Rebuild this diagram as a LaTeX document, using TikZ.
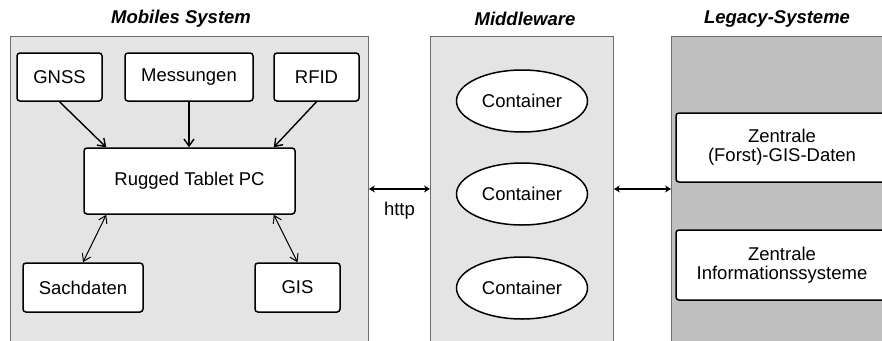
\documentclass[tikz,border=0pt]{standalone}
\usepackage{fontspec}
\setmainfont{Liberation Sans}
\usetikzlibrary{shapes.geometric,arrows.meta}
\definecolor{panellight}{HTML}{E4E4E4}
\definecolor{paneldark}{HTML}{C0C0C0}
\definecolor{panelline}{HTML}{6E6E6E}
\begin{document}
\begin{tikzpicture}[x=1pt,y=-1pt,
  every node/.style={font=\fontsize{18.5}{19}\selectfont},
  panel/.style={draw=panelline, line width=0.9pt, anchor=north west, inner sep=0pt, minimum height=305pt},
  ptitle/.style={font=\fontsize{18.5}{20}\selectfont\bfseries\itshape},
  box/.style={draw=black, fill=white, line width=1.5pt, rounded corners=3pt, inner sep=0pt, align=center},
  cont/.style={ellipse, draw=black, fill=white, line width=1.5pt, minimum width=131pt, minimum height=62pt, inner sep=0pt},
  arr/.style={line width=1.4pt, -{Straight Barb[length=7pt,width=10pt]}},
  darr/.style={line width=1pt, {Straight Barb[length=7pt,width=9pt]}-{Straight Barb[length=7pt,width=9pt]}},
  harr/.style={line width=1.6pt, {Stealth[length=6pt,width=7pt]}-{Stealth[length=6pt,width=7pt]}}
]
\useasboundingbox (0,0) rectangle (882,340);
\begin{scope}
\clip (0,0) rectangle (882,340);
% panels
\node[panel, fill=panellight, minimum width=358pt] (mob) at (10,36) {};
\node[panel, fill=panellight, minimum width=183pt] (mid) at (430,36) {};
\node[panel, fill=paneldark, minimum width=220pt] (leg) at (671,36) {};
% titles
\node[ptitle] (tmob) at (181,19) {Mobiles System};
\node[ptitle] (tmid) at (525,19) {Middleware};
\node[ptitle] (tleg) at (777,19) {Legacy-Systeme};
% mobile boxes
\node[box, minimum width=85pt, minimum height=48pt] (gnss) at (59.5,77) {GNSS};
\node[box, minimum width=128pt, minimum height=48pt] (mess) at (189,77) {Messungen};
\node[box, minimum width=85pt, minimum height=48pt] (rfid) at (316.5,77) {RFID};
\node[box, minimum width=211pt, minimum height=66pt] (tablet) at (189.5,181) {Rugged Tablet PC};
\node[box, minimum width=120pt, minimum height=49pt] (sach) at (83,287.5) {Sachdaten};
\node[box, minimum width=85pt, minimum height=49pt] (gis) at (297.5,287.5) {GIS};
% middleware
\node[cont] (c1) at (522,101) {Container};
\node[cont] (c2) at (522,194) {Container};
\node[cont] (c3) at (522,288) {Container};
% legacy boxes
\node[box, minimum width=212pt, minimum height=69pt] (gisdaten) at (782,147.5) {Zentrale\\(Forst)-GIS-Daten};
\node[box, minimum width=212pt, minimum height=70pt] (info) at (782,265) {Zentrale\\Informationssysteme};
% connectors
\draw[arr] (gnss.south) -- ([xshift=23pt]tablet.north west);
\draw[arr] (mess.south) -- (mess.south |- tablet.north);
\draw[arr] (rfid.south) -- ([xshift=-22pt]tablet.north east);
\draw[darr] (sach.north) -- ([xshift=23pt]tablet.south west);
\draw[darr] (gis.north) -- ([xshift=-22pt]tablet.south east);
\draw[harr] (mob.east) -- node[below=9pt] (http) {http} (mid.west);
\draw[harr] (mid.east) -- (leg.west);
\end{scope}
\end{tikzpicture}
\end{document}
